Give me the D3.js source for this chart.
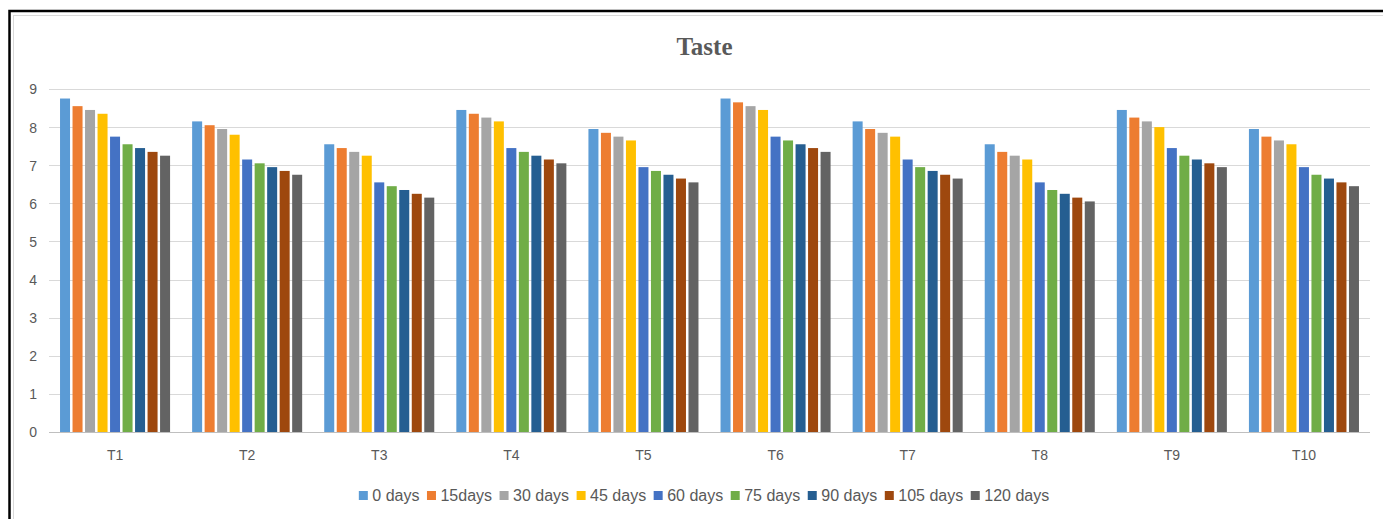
<!DOCTYPE html>
<html>
<head>
<meta charset="utf-8">
<script src="https://cdn.jsdelivr.net/npm/d3@7"></script>
<style>
  html, body { margin: 0; padding: 0; background: #fff; }
  svg { display: block; }
</style>
</head>
<body>
<svg id="chart" width="1383" height="519"></svg>
<script>
// Treatments on the x axis
const categories = ["T1", "T2", "T3", "T4", "T5", "T6", "T7", "T8", "T9", "T10"];
// Storage periods (one bar series each)
const seriesNames = ["0 days", "15days", "30 days", "45 days", "60 days", "75 days", "90 days", "105 days", "120 days"];
const seriesColors = ["#5B9BD5", "#ED7D31", "#A5A5A5", "#FFC000", "#4472C4", "#70AD47", "#255E91", "#9E480E", "#636363"];
// Taste scores per treatment, one row per storage period
const days0   = [8.75, 8.15, 7.55, 8.45, 7.95, 8.75, 8.15, 7.55, 8.45, 7.95];
const days15  = [8.55, 8.05, 7.45, 8.35, 7.85, 8.65, 7.95, 7.35, 8.25, 7.75];
const days30  = [8.45, 7.95, 7.35, 8.25, 7.75, 8.55, 7.85, 7.25, 8.15, 7.65];
const days45  = [8.35, 7.80, 7.25, 8.15, 7.65, 8.45, 7.75, 7.15, 8.00, 7.55];
const days60  = [7.75, 7.15, 6.55, 7.45, 6.95, 7.75, 7.15, 6.55, 7.45, 6.95];
const days75  = [7.55, 7.05, 6.45, 7.35, 6.85, 7.65, 6.95, 6.35, 7.25, 6.75];
const days90  = [7.45, 6.95, 6.35, 7.25, 6.75, 7.55, 6.85, 6.25, 7.15, 6.65];
const days105 = [7.35, 6.85, 6.25, 7.15, 6.65, 7.45, 6.75, 6.15, 7.05, 6.55];
const days120 = [7.25, 6.75, 6.15, 7.05, 6.55, 7.35, 6.65, 6.05, 6.95, 6.45];
const yTicks = [0, 1, 2, 3, 4, 5, 6, 7, 8, 9];

const seriesValues = [days0, days15, days30, days45, days60, days75, days90, days105, days120];

const svg = d3.select("#chart");
const W = 1383, H = 519;
const plot = { left: 49, right: 1370, top: 89, bottom: 432 };
const textColor = "#595959";
const uiFont = "'Liberation Sans', Arial, sans-serif";

// Outer frame
svg.append("rect").attr("x", 9.5).attr("y", 11).attr("width", W + 10).attr("height", H + 10)
  .attr("fill", "none").attr("stroke", "#000").attr("stroke-width", 2.5);
svg.append("rect").attr("x", 13.5).attr("y", 15.5).attr("width", W + 10).attr("height", H + 10)
  .attr("fill", "none").attr("stroke", "#d9d9d9").attr("stroke-width", 1);

// Scales
const x0 = d3.scaleBand().domain(categories).range([plot.left, plot.right])
  .paddingInner(0.167).paddingOuter(0.0835);
const x1 = d3.scaleBand().domain(seriesNames).range([0, x0.bandwidth()])
  .paddingInner(0.2).paddingOuter(0);
const y = d3.scaleLinear().domain([0, 9]).range([plot.bottom, plot.top]);

// Horizontal gridlines
svg.append("g").selectAll("line").data(yTicks.filter(d => d > 0)).join("line")
  .attr("x1", plot.left).attr("x2", plot.right)
  .attr("y1", d => Math.round(y(d)) + 0.5).attr("y2", d => Math.round(y(d)) + 0.5)
  .attr("stroke", "#d9d9d9").attr("stroke-width", 1);

// Y axis labels
const yAxis = d3.axisLeft(y).tickValues(yTicks).tickSize(0).tickPadding(0).tickFormat(d3.format("d"));
const gy = svg.append("g").attr("transform", `translate(${plot.left - 12},0)`).call(yAxis);
gy.select(".domain").remove();
gy.selectAll("text").attr("fill", textColor).attr("font-family", uiFont).attr("font-size", 14)
  .attr("dy", "0.35em");

// Bars
const groups = svg.append("g").selectAll("g").data(categories).join("g")
  .attr("transform", d => `translate(${x0(d)},0)`);
groups.selectAll("rect")
  .data((c, ci) => seriesNames.map((s, si) => ({ s, si, v: seriesValues[si][ci] })))
  .join("rect")
  .attr("x", d => x1(d.s))
  .attr("width", x1.bandwidth())
  .attr("y", d => y(d.v))
  .attr("height", d => y(0) - y(d.v))
  .attr("fill", d => seriesColors[d.si]);

// X axis baseline and category labels
svg.append("line").attr("x1", plot.left).attr("x2", plot.right)
  .attr("y1", plot.bottom + 0.5).attr("y2", plot.bottom + 0.5)
  .attr("stroke", "#bfbfbf").attr("stroke-width", 1);
const xAxis = d3.axisBottom(x0).tickSize(0).tickPadding(0);
const gx = svg.append("g").attr("transform", `translate(0,${plot.bottom})`).call(xAxis);
gx.select(".domain").remove();
gx.selectAll("text").attr("fill", textColor).attr("font-family", uiFont).attr("font-size", 14)
  .attr("y", 28).attr("dy", 0);

// Title
svg.append("text").attr("x", 704.5).attr("y", 54.5).attr("text-anchor", "middle")
  .attr("font-family", "'Liberation Serif', 'Times New Roman', serif")
  .attr("font-weight", "bold").attr("font-size", 25).attr("fill", textColor)
  .text("Taste");

// Legend, centred under the plot
const legend = svg.append("g");
const items = legend.selectAll("g").data(seriesNames).join("g");
items.append("rect").attr("width", 9).attr("height", 9).attr("y", -10)
  .attr("fill", (d, i) => seriesColors[i]);
items.append("text").attr("x", 13.5).attr("y", 0)
  .attr("font-family", uiFont).attr("font-size", 16).attr("fill", textColor)
  .text(d => d);
let cx = 0;
items.each(function () {
  const w = d3.select(this).select("text").node().getComputedTextLength();
  d3.select(this).attr("transform", `translate(${cx},0)`);
  cx += 13.5 + w + 7.5;
});
const legendWidth = cx - 7.5;
legend.attr("transform", `translate(${704 - legendWidth / 2},501)`);
</script>
</body>
</html>
